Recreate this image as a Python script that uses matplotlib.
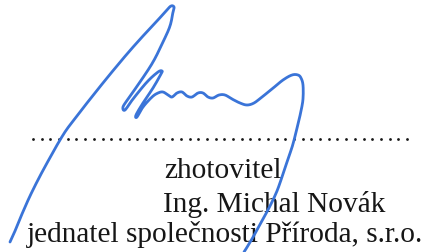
import matplotlib
matplotlib.use("Agg")
import matplotlib.pyplot as plt
import numpy as np

# signature stroke, traced in pixel coords (x right, y down)
sig_x = [10, 15, 22, 30, 40, 52, 60, 67, 77, 87, 107, 127, 143, 157, 166, 171, 174,
         173, 170, 163, 153, 140, 128, 123, 125, 133, 147, 158, 162, 161,
         153, 143, 136, 137, 143, 152, 158, 163, 168, 172, 177, 182, 187, 192,
         198, 203, 208, 213, 219, 225, 232, 240, 247, 254, 262, 272, 283, 292,
         298, 301, 303, 303, 301, 298, 293, 288, 283, 277, 270, 263, 256, 249, 244]
sig_y = [243, 232, 215, 197, 177, 155, 141, 130, 117, 104, 79, 55, 37, 22, 12, 7, 8,
         13, 27, 43, 63, 83, 100, 108, 111, 100, 83, 73, 72, 75,
         89, 104, 116, 118, 108, 98, 94, 93, 96, 98, 94, 93, 97, 98,
         94, 94, 98, 99, 96, 96, 100, 104, 106, 104, 98, 90, 81, 76,
         76, 79, 86, 100, 112, 125, 145, 160, 175, 192, 207, 220, 233, 245, 253]

lines = ["zhotovitel", "Ing. Michal Novák", "jednatel společnosti Příroda, s.r.o."]

BLUE = "#3a74d8"
INK = "#161616"


def smooth(xs, ys, n=8):
    # catmull-rom through the traced pen points, just to round off the corners
    p = np.column_stack([xs, ys]).astype(float)
    p = np.vstack([p[0], p, p[-1]])
    out = []
    t = np.linspace(0, 1, n, endpoint=False)[:, None]
    for i in range(1, len(p) - 2):
        p0, p1, p2, p3 = p[i - 1], p[i], p[i + 1], p[i + 2]
        out.append(0.5 * ((2 * p1) + (-p0 + p2) * t + (2 * p0 - 5 * p1 + 4 * p2 - p3) * t ** 2
                          + (-p0 + 3 * p1 - 3 * p2 + p3) * t ** 3))
    out.append(p[-2][None, :])
    q = np.vstack(out)
    return q[:, 0], q[:, 1]


fig = plt.figure(figsize=(4.3, 2.53), dpi=100, facecolor="white")
ax = fig.add_axes([0, 0, 1, 1])
ax.set_xlim(0, 430)
ax.set_ylim(253, 0)
ax.axis("off")

# dotted signature line
dot_x = np.linspace(33, 407, 44)
ax.plot(dot_x, np.full_like(dot_x, 140), ls="none", marker="o", ms=2.0,
        color=INK, mec="none", zorder=1)

fs = 21.2
ax.text(164, 178, lines[0], fontsize=fs, family="Liberation Serif", color=INK,
        ha="left", va="baseline", zorder=2)
ax.text(163, 212, lines[1], fontsize=fs, family="Liberation Serif", color=INK,
        ha="left", va="baseline", zorder=2)
ax.text(225, 242, lines[2], fontsize=fs, family="Liberation Serif", color=INK,
        ha="center", va="baseline", zorder=2)

sx, sy = smooth(sig_x, sig_y)
ax.plot(sx, sy, color=BLUE, lw=2.0, solid_joinstyle="round",
        solid_capstyle="round", zorder=3)

fig.savefig("out.png", dpi=100, facecolor="white")
